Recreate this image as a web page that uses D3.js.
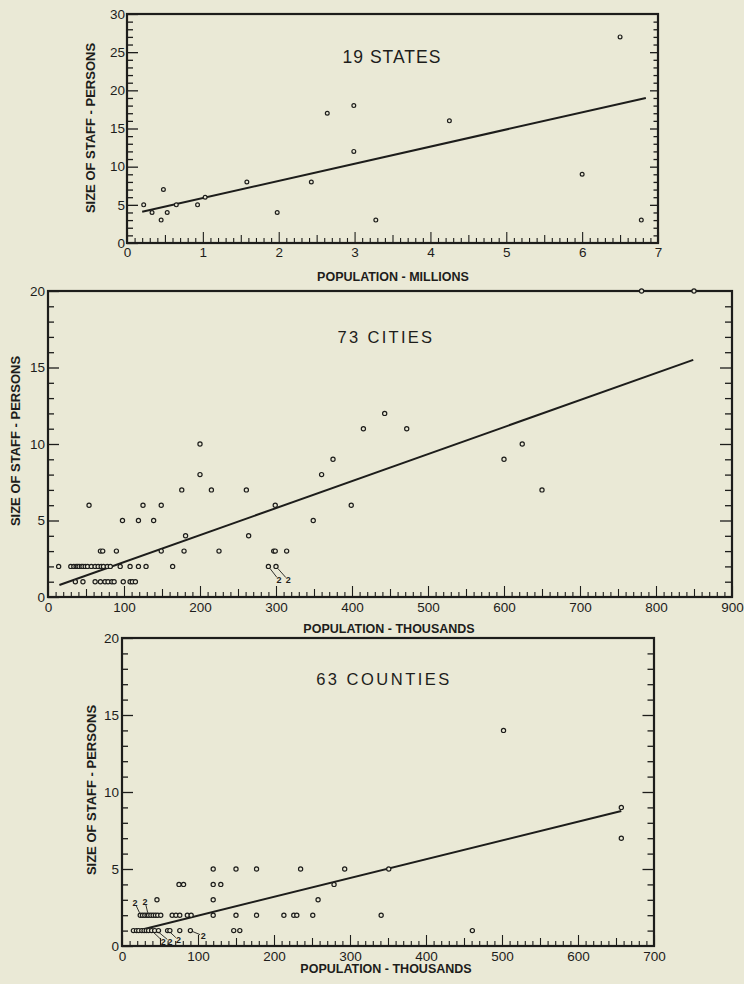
<!DOCTYPE html>
<html>
<head>
<meta charset="utf-8">
<script src="https://cdn.jsdelivr.net/npm/d3@7"></script>
<style>
html, body { margin: 0; padding: 0; background: #eae9d6; }
svg { display: block; font-family: "Liberation Sans", Arial, sans-serif; }
</style>
</head>
<body>
<div id="chart"></div>
<script>
// ---- data ----
var statesPop   = [0.22, 0.33, 0.45, 0.48, 0.53, 0.65, 0.93, 1.03, 1.58, 1.98, 2.43, 2.64, 2.99, 2.99, 3.28, 4.25, 6.0, 6.5, 6.78];
var statesStaff = [5,    4,    3,    7,    4,    5,    5,    6,    8,    4,    8,    17,   18,   12,   3,    16,   9,   27,  3];
var statesFitX = [0.2, 6.84];
var statesFitY = [4.1, 19.0];

var citiesPop = [36, 46, 62, 69, 75, 79, 84, 87, 99, 108, 111, 115,
  14, 30, 34, 37, 39, 41, 44, 46, 49, 52, 57, 62, 66, 70, 73, 78, 82, 95, 108, 119, 129, 164, 290, 300,
  69, 72, 90, 149, 179, 225, 297, 299, 314,
  181, 264,
  98, 119, 139, 349,
  54, 125, 149, 299, 399,
  176, 215, 261, 650,
  200, 360,
  375, 600,
  200, 624,
  415, 472,
  443,
  781, 850];
var citiesStaff = [1, 1, 1, 1, 1, 1, 1, 1, 1, 1, 1, 1,
  2, 2, 2, 2, 2, 2, 2, 2, 2, 2, 2, 2, 2, 2, 2, 2, 2, 2, 2, 2, 2, 2, 2, 2,
  3, 3, 3, 3, 3, 3, 3, 3, 3,
  4, 4,
  5, 5, 5, 5,
  6, 6, 6, 6, 6,
  7, 7, 7, 7,
  8, 8,
  9, 9,
  10, 10,
  11, 11,
  12,
  20, 20];
var citiesFitX = [15, 849];
var citiesFitY = [0.78, 15.5];
// [point x, point y, label x, label y]
var citiesNotes = [[290, 2, 304, 1.1], [300, 2, 316, 1.1]];

var countiesPop = [15, 19, 22, 26, 29, 32, 35, 39, 43, 48, 60, 63, 76, 90, 147, 155, 461,
  24, 27, 30, 33, 35, 38, 41, 44, 47, 51, 66, 71, 76, 86, 91, 120, 150, 177, 213, 226, 230, 251, 341,
  46, 120, 258,
  75, 81, 120, 130, 279,
  120, 150, 177, 235, 293, 351,
  502, 657, 657];
var countiesStaff = [1, 1, 1, 1, 1, 1, 1, 1, 1, 1, 1, 1, 1, 1, 1, 1, 1,
  2, 2, 2, 2, 2, 2, 2, 2, 2, 2, 2, 2, 2, 2, 2, 2, 2, 2, 2, 2, 2, 2, 2,
  3, 3, 3,
  4, 4, 4, 4, 4,
  5, 5, 5, 5, 5, 5,
  14, 9, 7];
var countiesFitX = [24, 657];
var countiesFitY = [1.04, 8.77];
var countiesNotes = [[24.5, 2, 17, 2.8], [34.6, 2, 30.3, 2.9], [39, 1, 54.4, 0.28],
  [45.7, 1, 63.2, 0.28], [61, 1, 74.2, 0.39], [90, 1, 107, 0.65]];

var statesXTicks = [0, 1, 2, 3, 4, 5, 6, 7];
var statesYTicks = [0, 5, 10, 15, 20, 25, 30];
var citiesXTicks = [0, 100, 200, 300, 400, 500, 600, 700, 800, 900];
var countiesXTicks = [0, 100, 200, 300, 400, 500, 600, 700];
var staffYTicks = [0, 5, 10, 15, 20];

var INK = "#1d1d1b";

var svg = d3.select("#chart").append("svg")
    .attr("width", 744)
    .attr("height", 984);

function near(v, step) {
    return Math.abs(v / step - Math.round(v / step)) < 1e-6;
}

function drawPanel(cfg) {
    var x = d3.scaleLinear().domain(cfg.xDomain).range([cfg.left, cfg.right]);
    var y = d3.scaleLinear().domain(cfg.yDomain).range([cfg.bottom, cfg.top]);
    var g = svg.append("g");

    // bottom ticks: minor / mid / major
    var n = Math.round(cfg.xDomain[1] / cfg.xMinor);
    var xAll = d3.range(0, n + 1).map(function(i) { return i * cfg.xMinor; });
    var bx = g.append("g")
        .attr("transform", "translate(0," + cfg.bottom + ")")
        .call(d3.axisBottom(x)
            .tickValues(xAll)
            .tickSize(-5)
            .tickPadding(cfg.pad)
            .tickFormat(function(d) {
                return cfg.xTicks.indexOf(Math.round(d * 1000) / 1000) >= 0 ? Math.round(d * 1000) / 1000 : "";
            }));
    bx.select(".domain").remove();
    bx.selectAll(".tick line")
        .attr("stroke", INK)
        .attr("stroke-width", 1.1)
        .attr("y2", function(d) {
            if (near(d, cfg.xMajor)) return -11;
            if (near(d, cfg.xMajor / 2)) return -8;
            return -5;
        });
    bx.selectAll(".tick text").attr("fill", INK).style("font-size", cfg.tickFont + "px");

    // left ticks
    var yAll = d3.range(0, cfg.yDomain[1] + 1);
    var ly = g.append("g")
        .attr("transform", "translate(" + cfg.left + ",0)")
        .call(d3.axisLeft(y)
            .tickValues(yAll)
            .tickSize(-6)
            .tickPadding(cfg.yPad)
            .tickFormat(function(d) { return cfg.yTicks.indexOf(d) >= 0 ? d : ""; }));
    ly.select(".domain").remove();
    ly.selectAll(".tick line")
        .attr("stroke", INK)
        .attr("stroke-width", 1.3)
        .attr("x2", function(d) { return d % 5 === 0 ? 11 : 6; });
    ly.selectAll(".tick text").attr("fill", INK).style("font-size", cfg.tickFont + "px");

    // right ticks, no labels
    var ry = g.append("g")
        .attr("transform", "translate(" + cfg.right + ",0)")
        .call(d3.axisRight(y)
            .tickValues(yAll.slice(1, -1))
            .tickSize(-6)
            .tickFormat(""));
    ry.select(".domain").remove();
    ry.selectAll(".tick line")
        .attr("stroke", INK)
        .attr("stroke-width", 1.3)
        .attr("x2", function(d) { return d % 5 === 0 ? -cfg.rightMajor : -cfg.rightMinor; });

    // frame
    g.append("rect")
        .attr("x", cfg.left)
        .attr("y", cfg.top)
        .attr("width", cfg.right - cfg.left)
        .attr("height", cfg.bottom - cfg.top)
        .attr("fill", "none")
        .attr("stroke", INK)
        .attr("stroke-width", 2.2);

    // regression line
    g.append("line")
        .attr("x1", x(cfg.fitX[0])).attr("y1", y(cfg.fitY[0]))
        .attr("x2", x(cfg.fitX[1])).attr("y2", y(cfg.fitY[1]))
        .attr("stroke", INK)
        .attr("stroke-width", 2);

    // points
    var pts = cfg.pop.map(function(v, i) { return {x: v, y: cfg.staff[i]}; });
    g.append("g").selectAll("circle")
        .data(pts)
        .enter()
        .append("circle")
        .attr("cx", function(d) { return x(d.x); })
        .attr("cy", function(d) { return y(d.y); })
        .attr("r", cfg.r)
        .attr("fill", "#eae9d6")
        .attr("stroke", INK)
        .attr("stroke-width", 1.2);

    // "2" notes for doubled points
    (cfg.notes || []).forEach(function(a) {
        var px = x(a[0]), py = y(a[1]), lx = x(a[2]), ly2 = y(a[3]);
        var dx = lx - px, dy = ly2 - py, len = Math.sqrt(dx * dx + dy * dy);
        g.append("line")
            .attr("x1", px + dx / len * (cfg.r + 0.6))
            .attr("y1", py + dy / len * (cfg.r + 0.6))
            .attr("x2", lx - dx / len * 3.5)
            .attr("y2", ly2 - dy / len * 3.5)
            .attr("stroke", INK)
            .attr("stroke-width", 0.9);
        g.append("text")
            .attr("x", lx)
            .attr("y", ly2 + 3.2)
            .attr("text-anchor", "middle")
            .attr("fill", INK)
            .style("font-size", "9px")
            .style("font-weight", "bold")
            .text("2");
    });

    // titles
    g.append("text")
        .attr("x", cfg.title[0])
        .attr("y", cfg.title[1])
        .attr("text-anchor", "middle")
        .attr("fill", INK)
        .style("font-size", cfg.titleFont + "px")
        .style("letter-spacing", cfg.titleSpacing + "px")
        .text(cfg.titleText);

    g.append("text")
        .attr("x", cfg.xTitle[0])
        .attr("y", cfg.xTitle[1])
        .attr("text-anchor", "middle")
        .attr("fill", INK)
        .style("font-size", "12.5px")
        .style("font-weight", "bold")
        .text(cfg.xTitleText);

    g.append("text")
        .attr("transform", "translate(" + cfg.yTitle[0] + "," + cfg.yTitle[1] + ") rotate(-90)")
        .attr("text-anchor", "middle")
        .attr("fill", INK)
        .style("font-size", "13px")
        .style("font-weight", "bold")
        .text("SIZE OF STAFF - PERSONS");
}

drawPanel({
    pop: statesPop, staff: statesStaff, fitX: statesFitX, fitY: statesFitY,
    xTicks: statesXTicks, yTicks: statesYTicks,
    xDomain: [0, 7], yDomain: [0, 30], xMinor: 0.1, xMajor: 1,
    left: 127, right: 658, top: 14, bottom: 243,
    pad: 4, yPad: 2, tickFont: 13.5, r: 1.9, rightMajor: 8, rightMinor: 4.5,
    titleText: "19 STATES", title: [392, 63], titleFont: 17.5, titleSpacing: 1,
    xTitleText: "POPULATION - MILLIONS", xTitle: [393, 281],
    yTitle: [95, 128]
});

drawPanel({
    pop: citiesPop, staff: citiesStaff, fitX: citiesFitX, fitY: citiesFitY,
    xTicks: citiesXTicks, yTicks: staffYTicks, notes: citiesNotes,
    xDomain: [0, 900], yDomain: [0, 20], xMinor: 10, xMajor: 100,
    left: 48, right: 732, top: 291, bottom: 597,
    pad: 5, yPad: 3, tickFont: 13.5, r: 2.1, rightMajor: 12, rightMinor: 7,
    titleText: "73 CITIES", title: [386, 343], titleFont: 16.5, titleSpacing: 2.3,
    xTitleText: "POPULATION - THOUSANDS", xTitle: [389, 633],
    yTitle: [20, 441]
});

drawPanel({
    pop: countiesPop, staff: countiesStaff, fitX: countiesFitX, fitY: countiesFitY,
    xTicks: countiesXTicks, yTicks: staffYTicks, notes: countiesNotes,
    xDomain: [0, 700], yDomain: [0, 20], xMinor: 10, xMajor: 100,
    left: 122, right: 654, top: 638, bottom: 946,
    pad: 5, yPad: 3, tickFont: 13.5, r: 2.1, rightMajor: 11.5, rightMinor: 6.5,
    titleText: "63 COUNTIES", title: [384, 685], titleFont: 16.5, titleSpacing: 2.5,
    xTitleText: "POPULATION - THOUSANDS", xTitle: [386, 973],
    yTitle: [96, 790]
});
</script>
</body>
</html>
